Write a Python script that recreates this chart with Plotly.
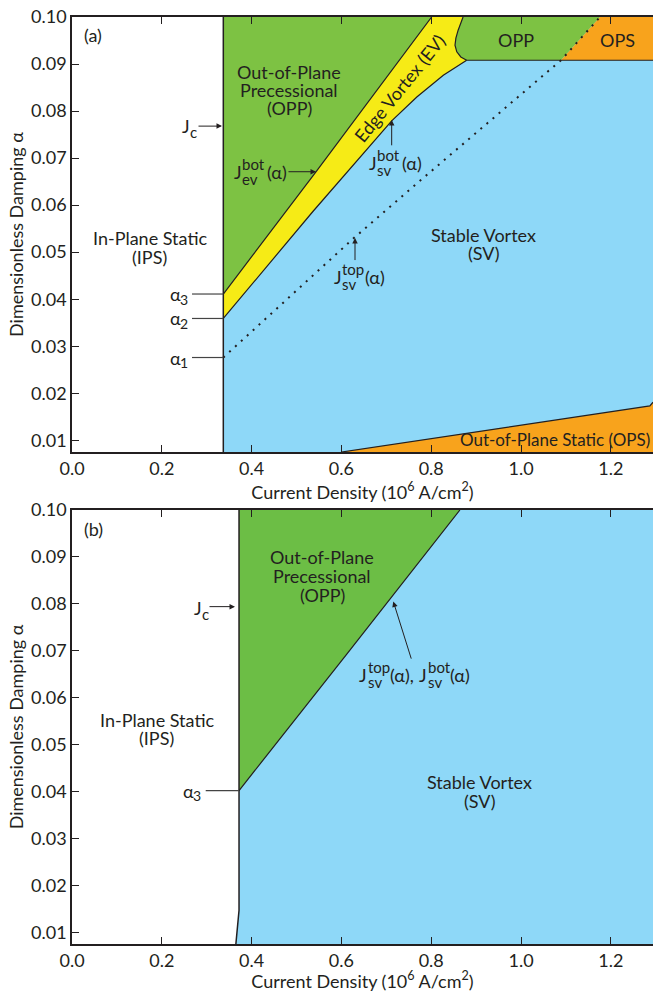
import plotly.graph_objects as go

# ---------------------------------------------------------------------------
# Phase diagram data: current density J (10^6 A/cm^2) vs. damping alpha
# ---------------------------------------------------------------------------
J_MAX = 1.294
A_MIN, A_MAX = 0.0075, 0.100

x_ticks = [0.0, 0.2, 0.4, 0.6, 0.8, 1.0, 1.2]
y_ticks = [0.01, 0.02, 0.03, 0.04, 0.05, 0.06, 0.07, 0.08, 0.09, 0.10]

# panel (a)
jc_a = 0.337
alpha_1, alpha_2, alpha_3 = 0.0276, 0.0359, 0.0411

ev_bot_j = [0.337, 0.545, 0.801]               # J_ev^bot(alpha)
ev_bot_a = [0.0411, 0.0673, 0.100]

sv_bot_j = [0.337, 0.508, 0.537, 0.712, 0.768, 0.827, 0.879]   # J_sv^bot(alpha)
sv_bot_a = [0.0359, 0.0553, 0.0587, 0.0779, 0.0830, 0.0876, 0.0908]

ev_right_j = [0.879, 0.866, 0.857, 0.853, 0.855, 0.860, 0.871]
ev_right_a = [0.0908, 0.0915, 0.0926, 0.0940, 0.0955, 0.0972, 0.100]

sv_top_j = [0.337, 0.6265, 0.768, 1.089, 1.176]  # J_sv^top(alpha)
sv_top_a = [0.0276, 0.0529, 0.0646, 0.0908, 0.100]

opp_floor_a = 0.0908

ops_low_j = [0.600, 0.864, 1.287, 1.294]
ops_low_a = [0.0075, 0.0113, 0.0173, 0.0181]

# panel (b)
jc_b_j = [0.365, 0.372, 0.372]
jc_b_a = [0.0075, 0.0147, 0.100]
alpha_3b = 0.0402

sv_b_j = [0.372, 0.530, 0.612, 0.864]          # J_sv^top = J_sv^bot
sv_b_a = [0.0402, 0.0595, 0.0693, 0.100]

# ---------------------------------------------------------------------------
FONT = "Lato"
INK = "#231f20"
GREEN_A = "#7dc243"
GREEN_B = "#6cbe45"
BLUE = "#8ed8f8"
YELLOW = "#f6eb16"
ORANGE = "#f8a31c"

fig = go.Figure()


def region(xs, ys, color, xa="x", ya="y"):
    fig.add_trace(go.Scatter(x=xs, y=ys, fill="toself", fillcolor=color,
                             mode="lines", line=dict(width=0, color=color),
                             hoverinfo="skip", xaxis=xa, yaxis=ya))


def edge(xs, ys, xa="x", ya="y", width=1.2, dash="solid"):
    fig.add_trace(go.Scatter(x=xs, y=ys, mode="lines",
                             line=dict(color=INK, width=width, dash=dash),
                             hoverinfo="skip", xaxis=xa, yaxis=ya))


# ---- panel (a) regions
region([jc_a, J_MAX, J_MAX, jc_a], [A_MIN, A_MIN, A_MAX, A_MAX], BLUE)
region(ev_bot_j + [jc_a], ev_bot_a + [A_MAX], GREEN_A)
region(sv_bot_j + ev_right_j[1:] + ev_bot_j[::-1],
       sv_bot_a + ev_right_a[1:] + ev_bot_a[::-1], YELLOW)
region([ev_right_j[0], sv_top_j[3], sv_top_j[4]] + ev_right_j[::-1],
       [opp_floor_a, sv_top_a[3], sv_top_a[4]] + ev_right_a[::-1], GREEN_A)
region([sv_top_j[3], J_MAX, J_MAX, sv_top_j[4]],
       [opp_floor_a, opp_floor_a, A_MAX, A_MAX], ORANGE)
region(ops_low_j + [J_MAX], ops_low_a + [A_MIN], ORANGE)

# ---- panel (a) boundaries
edge([jc_a, jc_a], [A_MIN, A_MAX], width=1.5)
edge(ev_bot_j, ev_bot_a)
edge(sv_bot_j, sv_bot_a)
edge(ev_right_j, ev_right_a)
edge([ev_right_j[0], J_MAX], [opp_floor_a, opp_floor_a])
edge(sv_top_j, sv_top_a, width=2, dash="2px,6px")
edge(ops_low_j, ops_low_a)

# ---- panel (b) regions
region([jc_b_j[0], J_MAX, J_MAX, jc_b_j[2], jc_b_j[1]],
       [A_MIN, A_MIN, A_MAX, jc_b_a[2], jc_b_a[1]], BLUE, "x2", "y2")
region(sv_b_j + [sv_b_j[0]], sv_b_a + [A_MAX], GREEN_B, "x2", "y2")
edge(jc_b_j, jc_b_a, "x2", "y2", width=1.5)
edge(sv_b_j, sv_b_a, "x2", "y2")

# ---------------------------------------------------------------------------
ann = []
shapes = []


def txt(xr, yr, x, y, s, size=18, xanchor="center", xs=0, ys=0, angle=0):
    ann.append(dict(xref=xr, yref=yr, x=x, y=y, text=s, showarrow=False,
                    xanchor=xanchor, yanchor="middle", xshift=xs, yshift=ys,
                    textangle=angle, font=dict(family=FONT, size=size, color=INK)))


def arrow(xr, yr, x0, y0, x1, y1):
    ann.append(dict(xref=xr, yref=yr, axref=xr, ayref=yr, x=x1, y=y1, ax=x0, ay=y0,
                    text="", showarrow=True, arrowhead=2, arrowsize=1.1,
                    arrowwidth=1, arrowcolor=INK, standoff=0, startstandoff=0))


def tick_line(xr, yr, x0, x1, y, color="#444"):
    shapes.append(dict(type="line", xref=xr, yref=yr, x0=x0, x1=x1, y0=y, y1=y,
                       line=dict(color=color, width=1.2)))


def jsym(xr, yr, x, y, sup, sub, dx=8, xs=0):
    """J with a stacked superscript and subscript."""
    txt(xr, yr, x, y, "J", xanchor="left", xs=xs)
    txt(xr, yr, x, y, sup, size=15, xanchor="left", xs=xs + dx, ys=8)
    txt(xr, yr, x, y, sub, size=15, xanchor="left", xs=xs + dx, ys=-7)


def alpha_lbl(xr, yr, x, y, n):
    txt(xr, yr, x, y, "α", xanchor="right", xs=-7)
    txt(xr, yr, x, y, n, size=14, xanchor="right", xs=0, ys=-5)


# ---- panel (a) labels
txt("x", "y", 0.047, 0.0962, "(a)")
txt("x", "y", 0.4833, 0.0883, "Out-of-Plane")
txt("x", "y", 0.4833, 0.0845, "Precessional")
txt("x", "y", 0.4833, 0.0806, "(OPP)")

txt("x", "y", 0.2405, 0.0768, "J", xanchor="left")
txt("x", "y", 0.2405, 0.0768, "c", size=15, xanchor="left", xs=8, ys=-6)
arrow("x", "y", 0.2784, 0.0768, 0.3341, 0.0768)

jsym("x", "y", 0.3563, 0.0671, "bot", "ev")
txt("x", "y", 0.3563, 0.0671, "(α)", xanchor="left", xs=33)
arrow("x", "y", 0.4788, 0.0671, 0.5434, 0.0671)

txt("x", "y", 0.7305, 0.0848, "Edge Vortex (EV)", angle=-51)
txt("x", "y", 0.9889, 0.0951, "OPP")
txt("x", "y", 1.216, 0.0951, "OPS")

jsym("x", "y", 0.6563, 0.0690, "bot", "sv")
txt("x", "y", 0.6563, 0.0690, "(α)", xanchor="left", xs=33)
arrow("x", "y", 0.712, 0.0724, 0.712, 0.0781)

txt("x", "y", 0.9154, 0.0537, "Stable Vortex")
txt("x", "y", 0.9154, 0.0498, "(SV)")

jsym("x", "y", 0.5784, 0.0448, "top", "sv")
txt("x", "y", 0.5784, 0.0448, "(α)", xanchor="left", xs=31)
arrow("x", "y", 0.6303, 0.0480, 0.6303, 0.0530)

txt("x", "y", 0.1737, 0.0530, "In-Plane Static")
txt("x", "y", 0.1737, 0.0490, "(IPS)")

for a_val, n in [(alpha_3, "3"), (alpha_2, "2"), (alpha_1, "1")]:
    alpha_lbl("x", "y", 0.2628, a_val, n)
    tick_line("x", "y", 0.2673, jc_a, a_val)

txt("x", "y", J_MAX, 0.0101, "Out-of-Plane Static (OPS)", size=17,
    xanchor="right", xs=-1)

# ---- panel (b) labels
txt("x2", "y2", 0.047, 0.0960, "(b)")
txt("x2", "y2", 0.5568, 0.0900, "Out-of-Plane")
txt("x2", "y2", 0.5568, 0.0859, "Precessional")
txt("x2", "y2", 0.5568, 0.0819, "(OPP)")

txt("x2", "y2", 0.2666, 0.0791, "J", xanchor="left")
txt("x2", "y2", 0.2666, 0.0791, "c", size=15, xanchor="left", xs=8, ys=-6)
arrow("x2", "y2", 0.3029, 0.0794, 0.3630, 0.0794)

jsym("x2", "y2", 0.6341, 0.0648, "top", "sv", dx=9)
txt("x2", "y2", 0.6341, 0.0648, "(α),", xanchor="left", xs=31)
jsym("x2", "y2", 0.6341, 0.0648, "bot", "sv", dx=9, xs=60)
txt("x2", "y2", 0.6341, 0.0648, "(α)", xanchor="left", xs=91)
arrow("x2", "y2", 0.7566, 0.0680, 0.7156, 0.0805)

txt("x2", "y2", 0.1893, 0.0552, "In-Plane Static")
txt("x2", "y2", 0.1893, 0.0514, "(IPS)")

alpha_lbl("x2", "y2", 0.2918, alpha_3b, "3")
tick_line("x2", "y2", 0.2978, jc_b_j[2], alpha_3b)

txt("x2", "y2", 0.9071, 0.0421, "Stable Vortex")
txt("x2", "y2", 0.9071, 0.0380, "(SV)")

# ---------------------------------------------------------------------------
axis_font = dict(family=FONT, size=18, color=INK)


def xaxis(anchor):
    return dict(anchor=anchor, domain=[0, 1], range=[0, J_MAX],
                tickvals=x_ticks, tickformat=".1f", ticks="inside", ticklen=7,
                tickcolor=INK, tickwidth=1.2, showline=True, linecolor=INK,
                linewidth=1.6, mirror="ticks", showgrid=False, zeroline=False,
                tickfont=axis_font,
                title=dict(text="Current Density (10<sup>6</sup> A/cm<sup>2</sup>)",
                           font=axis_font, standoff=1))


def yaxis(anchor, domain):
    return dict(anchor=anchor, domain=domain, range=[A_MIN, A_MAX],
                tickvals=y_ticks, tickformat=".2f", ticks="inside", ticklen=7,
                tickcolor=INK, tickwidth=1.2, showline=True, linecolor=INK,
                linewidth=1.6, showgrid=False, zeroline=False, tickfont=axis_font,
                title=dict(text="Dimensionless Damping α", font=axis_font, standoff=3))


fig.update_layout(
    width=653, height=992,
    margin=dict(l=72, r=0, t=17, b=48),
    paper_bgcolor="white", plot_bgcolor="white",
    showlegend=False,
    xaxis=xaxis("y"), yaxis=yaxis("x", [0.5307, 1.0]),
    xaxis2=xaxis("y2"), yaxis2=yaxis("x2", [0.0, 0.4682]),
    annotations=ann, shapes=shapes,
    font=dict(family=FONT, color=INK),
)

fig.write_html("out.html")
